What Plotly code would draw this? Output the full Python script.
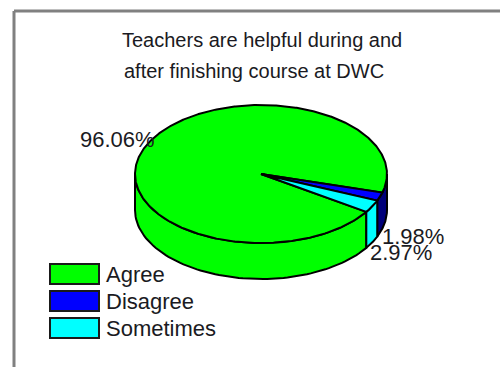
import numpy as np
import plotly.graph_objects as go

categories = ["Agree", "Disagree", "Sometimes"]
percent_values = [96.06, 1.98, 2.97]
percent_labels = ["96.06%", "1.98%", "2.97%"]
slice_colors = ["#00ff00", "#0000ff", "#00ffff"]
wall_colors = ["#00ff00", "#00007a", "#00ffff"]
title_lines = ["Teachers are helpful during and", "after finishing course at DWC"]

W, H = 500, 367
CX, CY, RX, RY, DEPTH = 261, 174, 126, 69, 36
START_DEG = 33.3
FONT = "Liberation Sans"
INK = "#1a1a22"


def pt(t, dz=0.0):
    return CX + RX * np.cos(t), CY + RY * np.sin(t) + dz


fig = go.Figure()
shares = np.array(percent_values) / sum(percent_values) * 360
edges = START_DEG + np.concatenate([[0], np.cumsum(shares)])


def poly(x, y, color, name=None, width=2):
    fig.add_trace(go.Scatter(
        x=list(x) + [x[0]], y=list(y) + [y[0]], mode="lines", fill="toself",
        fillcolor=color, line=dict(color="#000000", width=width),
        hoverinfo="skip", showlegend=False, name=name))


# side wall, front half only: Agree from its start to the far left,
# then the dark wall runs from the right edge to the Sometimes slice.
wall_spans = [(edges[0], 180.0), (0.0, edges[2] - 360), (edges[2] - 360, edges[3] - 360)]
for i, cat in enumerate(categories):
    lo, hi = wall_spans[i]
    ts = np.radians(np.linspace(lo, hi, 80))
    xt, yt = pt(ts)
    xb, yb = pt(ts[::-1], DEPTH)
    poly(np.r_[xt, xb], np.r_[yt, yb], wall_colors[i], cat)

# top face
for i, cat in enumerate(categories):
    ts = np.radians(np.linspace(edges[i], edges[i + 1], max(4, int(shares[i] * 2))))
    xt, yt = pt(ts)
    poly(np.r_[CX, xt], np.r_[CY, yt], slice_colors[i], cat)

annotations = []
for line, x, y in zip(title_lines, (261.5, 253.5), (40, 71)):
    annotations.append(dict(x=x, y=y, text=line, xref="x", yref="y", showarrow=False,
                            font=dict(family=FONT, size=20, color=INK)))
for text, x, y in zip(percent_labels, (117, 413, 401), (139, 236, 252)):
    annotations.append(dict(x=x, y=y, text=text, xref="x", yref="y", showarrow=False,
                            font=dict(family=FONT, size=22, color=INK)))

shapes = [
    dict(type="line", xref="x", yref="y", x0=14, y0=11, x1=500, y1=11, line=dict(color="#808080", width=3)),
    dict(type="line", xref="x", yref="y", x0=14, y0=11, x1=14, y1=367, line=dict(color="#808080", width=3)),
]
for i, cat in enumerate(categories):
    top = 264 + 27 * i
    shapes.append(dict(type="rect", xref="x", yref="y", x0=50, x1=99, y0=top, y1=top + 20,
                       fillcolor=slice_colors[i], line=dict(color="#1a1a1a", width=2)))
    annotations.append(dict(x=104, y=top + 10, text=cat, xref="x", yref="y", xanchor="left", showarrow=False,
                            font=dict(family=FONT, size=22, color=INK)))

fig.update_layout(
    width=W, height=H, margin=dict(l=0, r=0, t=0, b=0),
    paper_bgcolor="#ffffff", plot_bgcolor="#ffffff", showlegend=False,
    xaxis=dict(range=[0, W], visible=False, fixedrange=True),
    yaxis=dict(range=[H, 0], visible=False, fixedrange=True),
    annotations=annotations, shapes=shapes,
)
fig.write_html("out.html", config={"displayModeBar": False},
               post_script="document.body.style.margin='0';document.body.style.overflow='hidden';")
